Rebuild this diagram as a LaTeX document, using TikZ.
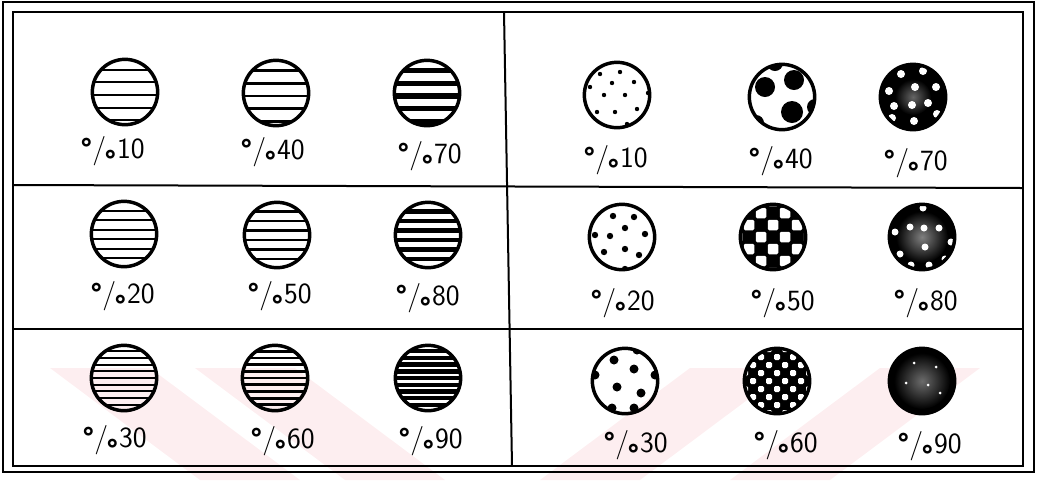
\documentclass[tikz,border=0pt]{standalone}
\usepackage{fontspec}
\usetikzlibrary{positioning}
\definecolor{markpink}{RGB}{253,238,240}

\newcommand{\ring}{{\bfseries\textdegree}}
\newcommand{\pc}[1]{\ring/\kern-.06em\raisebox{-.44em}{\ring}\kern.02em#1}

\tikzset{
  disc/.style={circle, draw, line width=2.6pt, minimum size=49pt, inner sep=0pt},
  stripes/.style n args={3}{disc, path picture={
      \begin{scope}[shift={(path picture bounding box.center)}]
        \foreach \k in {-6,...,6}
          \draw[line width=#2] (-40,\k*#1+#3) -- (40,\k*#1+#3);
      \end{scope}}},
  dots/.style={disc, path picture={
      \begin{scope}[shift={(path picture bounding box.center)}]
        \foreach \a/\b/\r in {#1} \fill (\a,\b) circle[radius=\r];
      \end{scope}}},
  checker/.style 2 args={disc, fill=black, path picture={
      \begin{scope}[shift={(path picture bounding box.center)}]
        \foreach \i in {-5,...,5} \foreach \j in {-5,...,5} {
          \pgfmathtruncatemacro\odd{mod(\i+\j+20,2)}
          \ifnum\odd=1 \fill[white, rounded corners=1pt] (\i*#1-#2/2,\j*#1-#2/2) rectangle ++(#2,#2); \fi}
      \end{scope}}},
  spotted/.style n args={3}{disc, fill=black, path picture={
      \begin{scope}[shift={(path picture bounding box.center)}]
        \shade[inner color=black!#1, outer color=black] (0,0) circle[radius=#2];
        \foreach \a/\b/\r in {#3} \fill[white] (\a,\b) circle[radius=\r];
      \end{scope}}},
  pct/.style={font=\sffamily\fontsize{22}{26}\selectfont, anchor=base west, inner sep=0pt},
  frame/.style={line width=1.5pt},
}

\begin{document}
\begin{tikzpicture}[x=0.75pt, y=-0.75pt]
    \useasboundingbox (0,0) rectangle (1045,480);

    % Watermark
    \begin{scope}
      \clip (0,368) rectangle (1045,480);
      \fill[markpink] (50,368) -- (150,368) -- (300,480) -- (200,480) -- cycle;
      \fill[markpink] (195,368) -- (295,368) -- (445,480) -- (345,480) -- cycle;
      \fill[markpink] (690,368) -- (790,368) -- (640,480) -- (540,480) -- cycle;
      \fill[markpink] (880,368) -- (980,368) -- (830,480) -- (730,480) -- cycle;
    \end{scope}

    % Frame
    \draw[line width=2pt] (3,2) rectangle (1034,472);
    \draw[frame] (13,12) rectangle (1023,466);
    \draw[frame] (504,12) -- (512,466);
    \draw[frame] (13,185) -- (1023,188);
    \draw[frame] (13,329) -- (1023,329);

    % Striped discs
    \node[stripes={12.6}{1.5pt}{3}] (s10) at (125,92) {};
    \node[stripes={12.6}{2.2pt}{3}] (s40) at (276,93) {};
    \node[stripes={12.6}{3.8pt}{3}] (s70) at (427,93) {};
    \node[stripes={9.5}{1.5pt}{5}] (s20) at (124,234) {};
    \node[stripes={9.5}{2.2pt}{5}] (s50) at (277,235) {};
    \node[stripes={9.5}{3.6pt}{5}] (s80) at (428,235) {};
    \node[stripes={6.7}{1.5pt}{0}] (s30) at (124,378) {};
    \node[stripes={6.7}{2.1pt}{0}] (s60) at (275,378) {};
    \node[stripes={6.7}{3.3pt}{0}] (s90) at (428,378) {};

    \node[pct] (ls10) at (80,158) {\pc{10}};
    \node[pct] (ls40) at (240,159) {\pc{40}};
    \node[pct] (ls70) at (397,163) {\pc{70}};
    \node[pct] (ls20) at (90,303) {\pc{20}};
    \node[pct] (ls50) at (247,303) {\pc{50}};
    \node[pct] (ls80) at (395,305) {\pc{80}};
    \node[pct] (ls30) at (82,447) {\pc{30}};
    \node[pct] (ls60) at (250,448) {\pc{60}};
    \node[pct] (ls90) at (398,448) {\pc{90}};

    % Dotted and dark discs
    \node[dots={-17/-21/2.2, 3/-23/2.2, -27/-8/2.2, -5/-12/2.2, 17/-13/2.2, -13/0/2.2,
      8/0/2.2, 31/-2/2.2, -20/17/2.2, -2/17/2.2, 20/14/2.2, 10/29/2.2}] (d10) at (617,95) {};
    \node[dots={-17/-10/10, 12/-17/10, 10/15/11, -7/-34/8, 33/10/8, -26/26/8}] (d40) at (782,97) {};
    \node[spotted={60}{18}{-12/-23/4, 10/-26/4, -24/-6/4, 2/-10/4, 23/-10/4, -19/9/4,
      -1/8/4, 15/6/4, 24/17/4, -21/21/4, 1/24/4}] (d70) at (913,97) {};
    \node[dots={-9/-21/3.2, 12/-20/3.2, 3/-9/3.2, -27/-2/3.2, -12/-1/3.2, 23/-3/3.2, -18/15/3.2,
      3/12/3.2, 17/18/3.2, 3/32/3.2}] (d20) at (622,237) {};
    \node[checker={12}{10.5}] (d50) at (773,237) {};
    \node[spotted={50}{26}{1/-29/3.5, -27/-5/3.5, -12/-10/3.5, 2/-9/3.5, 17/-9/3.5, 3/10/3.5,
      -22/17/3.5, 29/5/3.5, -11/28/3.5, 7/28/3.5, 23/22/3.5}] (d80) at (922,237) {};
    \node[dots={-11/-21/4.5, 12/-31/4.5, 9/-12/4.5, -30/-6/4.5, -8/6/4.5, 30/-6/4.5,
      16/12/4.5, -13/27/4.5, 9/27/4.5}] (d30) at (625,381) {};
    \node[checker={8}{6}] (d60) at (777,381) {};
    \node[spotted={58}{28}{-8/-18/1.5, 14/-14/1.5, -16/2/1.5, 6/4/1.5, 18/12/1.5}] (d90) at (922,381) {};

    \node[pct] (ld10) at (583,167) {\pc{10}};
    \node[pct] (ld40) at (748,168) {\pc{40}};
    \node[pct] (ld70) at (883,170) {\pc{70}};
    \node[pct] (ld20) at (590,310) {\pc{20}};
    \node[pct] (ld50) at (750,310) {\pc{50}};
    \node[pct] (ld80) at (893,310) {\pc{80}};
    \node[pct] (ld30) at (603,452) {\pc{30}};
    \node[pct] (ld60) at (753,452) {\pc{60}};
    \node[pct] (ld90) at (897,453) {\pc{90}};
\end{tikzpicture}
\end{document}
